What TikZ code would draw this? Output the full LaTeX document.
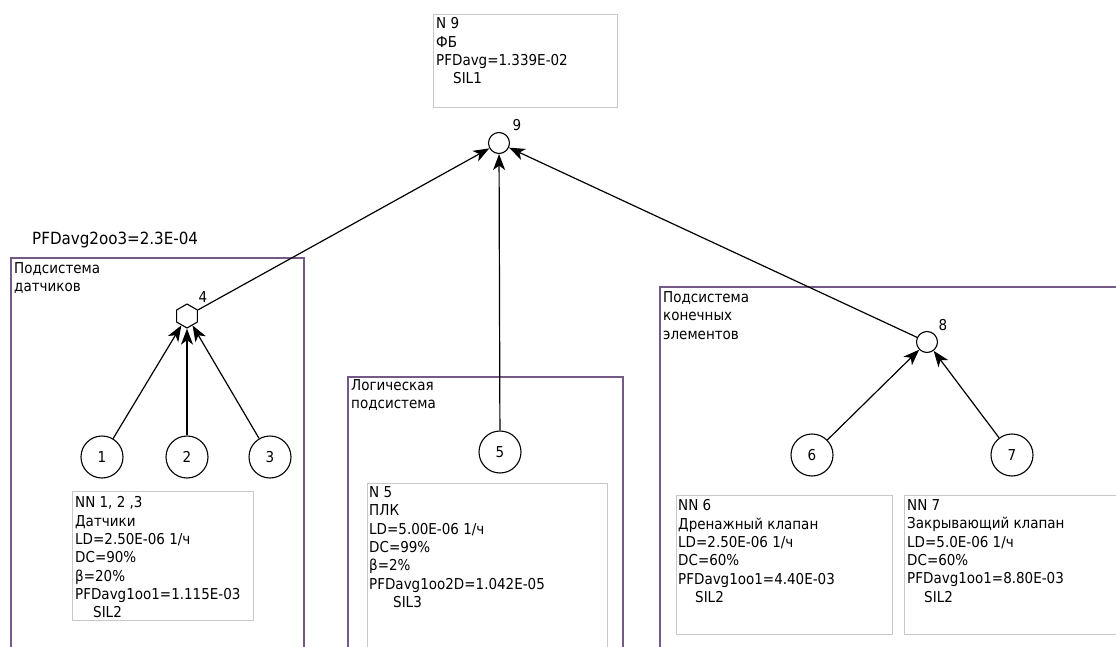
\documentclass[tikz,border=0pt]{standalone}
\usepackage{fontspec}
\setmainfont{DejaVu Sans Condensed}
\usetikzlibrary{arrows.meta,shapes.geometric}
\definecolor{frameclr}{RGB}{118,90,134}
\definecolor{boxline}{RGB}{200,200,200}
\begin{document}
\begin{tikzpicture}[x=1pt,y=-1pt,
  every node/.style={font=\fontsize{15}{18.3}\selectfont},
  vertex/.style={circle,draw,line width=1.1pt,fill=white,minimum size=42pt,inner sep=0pt},
  junction/.style={circle,draw,line width=1.1pt,fill=white,minimum size=21pt,inner sep=0pt},
  voter/.style={regular polygon,regular polygon sides=6,shape border rotate=30,
    draw,line width=1.1pt,fill=white,minimum size=24pt,inner sep=0pt},
  link/.style={-{Stealth[length=16pt,width=12pt,inset=4.5pt]},line width=1.2pt},
  infobox/.style={draw=boxline,line width=1pt,fill=white},
  subsys/.style={draw=frameclr,line width=1.7pt},
  txt/.style={anchor=north west,inner sep=0pt,align=left},
  tag/.style={inner sep=0pt}
]
\useasboundingbox (0,0) rectangle (1116,647);
\fill[white] (0,0) rectangle (1116,647);

% subsystem frames (open towards the page edges)
\draw[subsys] (11,650) -- (11,258) -- (304,258) -- (304,650);
\draw[subsys] (348,650) -- (348,377) -- (623,377) -- (623,650);
\draw[subsys] (660,650) -- (660,287) -- (1120,287);

\node[txt] (lbl1) at (14,262.5) {Подсистема\\датчиков};
\node[txt] (lbl2) at (351,379.5) {Логическая\\подсистема};
\node[txt] (lbl3) at (663,291.5) {Подсистема\\конечных\\элементов};
\node[txt,font=\fontsize{16.8}{20}\selectfont] (pfd2oo3) at (32,232) {PFDavg2oo3=2.3E-04};

% parameter boxes
\draw[infobox] (433,15) rectangle (617,108);
\node[txt] (t9) at (436,17.5) {N 9\\ФБ\\PFDavg=1.339E-02\\\hspace*{17pt}SIL1};

\draw[infobox] (72,491) rectangle (253,620);
\node[txt] (t123) at (75,496.5) {NN 1, 2 ,3\\Датчики\\LD=2.50E-06 1/ч\\DC=90\%\\β=20\%\\PFDavg1oo1=1.115E-03\\\hspace*{18pt}SIL2};

\draw[infobox] (367,650) -- (367,483) -- (607,483) -- (607,650);
\node[txt] (t5) at (369,486.5) {N 5\\ПЛК\\LD=5.00E-06 1/ч\\DC=99\%\\β=2\%\\PFDavg1oo2D=1.042E-05\\\hspace*{24pt}SIL3};

\draw[infobox] (676,495) rectangle (892,634);
\node[txt] (t6) at (678,499.5) {NN 6\\Дренажный клапан\\LD=2.50E-06 1/ч\\DC=60\%\\PFDavg1oo1=4.40E-03\\\hspace*{17pt}SIL2};

\draw[infobox] (1120,495) -- (904,495) -- (904,634) -- (1120,634);
\node[txt] (t7) at (907,499.5) {NN 7\\Закрывающий клапан\\LD=5.0E-06 1/ч\\DC=60\%\\PFDavg1oo1=8.80E-03\\\hspace*{17pt}SIL2};

% tree nodes
\node[vertex] (n1) at (102,457) {1};
\node[vertex] (n2) at (187,457) {2};
\node[vertex] (n3) at (270,457) {3};
\node[voter] (n4) at (187,316) {};
\node[tag] (l4) at (203,297) {4};
\node[vertex] (n5) at (500,452) {5};
\node[vertex] (n6) at (812,455) {6};
\node[vertex] (n7) at (1012,455) {7};
\node[junction] (n8) at (927,342) {};
\node[tag] (l8) at (943,325) {8};
\node[junction] (n9) at (499,143) {};
\node[tag] (l9) at (517,125) {9};

% connectors
\draw[link] (n1) -- (n4);
\draw[link] (n2) -- (n4);
\draw[link] (n3) -- (n4);
\draw[link] (n6) -- (n8);
\draw[link] (n7) -- (n8);
\draw[link] (n4) -- (n9);
\draw[link] (n5) -- (n9);
\draw[link] (n8) -- (n9);
\end{tikzpicture}
\end{document}
